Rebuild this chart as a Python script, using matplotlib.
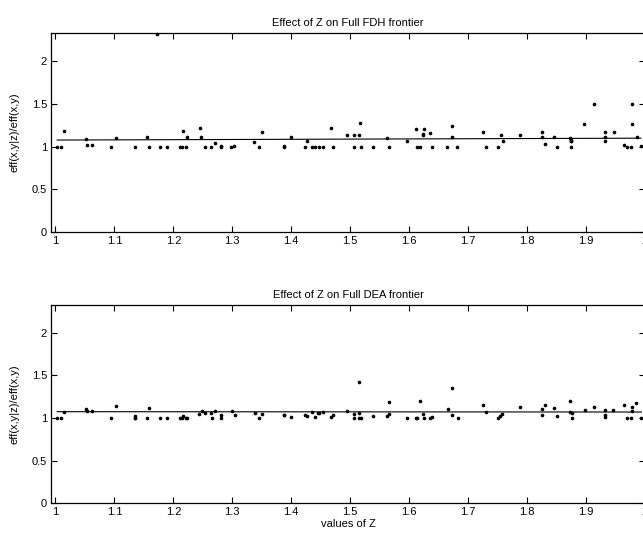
import matplotlib
matplotlib.use('Agg')
import matplotlib.pyplot as plt
from matplotlib.ticker import FormatStrFormatter

plt.rcParams['font.family'] = ['Liberation Sans', 'DejaVu Sans']

# Full FDH frontier: values of Z and ratio eff(x,y|z)/eff(x,y)
fdh_z = [1.003, 1.010, 1.015, 1.052, 1.053, 1.062, 1.094, 1.103, 1.135, 1.155,
         1.158, 1.172, 1.177, 1.190, 1.212, 1.215, 1.216, 1.221, 1.224, 1.245,
         1.247, 1.254, 1.264, 1.270, 1.280, 1.280, 1.298, 1.303, 1.337, 1.345,
         1.350, 1.387, 1.388, 1.399, 1.424, 1.427, 1.435, 1.440, 1.447, 1.454,
         1.467, 1.471, 1.494, 1.506, 1.506, 1.515, 1.516, 1.518, 1.539, 1.563,
         1.565, 1.597, 1.611, 1.614, 1.619, 1.623, 1.624, 1.625, 1.635, 1.639,
         1.665, 1.672, 1.672, 1.681, 1.725, 1.731, 1.751, 1.755, 1.759, 1.788,
         1.825, 1.825, 1.830, 1.845, 1.851, 1.873, 1.874, 1.875, 1.875, 1.875,
         1.897, 1.913, 1.933, 1.933, 1.933, 1.947, 1.965, 1.969, 1.976, 1.978,
         1.978, 1.986, 1.993]
fdh_eff = [1.0, 1.0, 1.18, 1.094, 1.02, 1.02, 1.0, 1.10, 1.0, 1.11,
           1.0, 2.32, 1.0, 1.0, 1.0, 1.0, 1.18, 1.0, 1.117, 1.22,
           1.117, 1.0, 1.0, 1.04, 1.01, 1.0, 1.0, 1.01, 1.05, 1.0,
           1.17, 1.01, 1.0, 1.117, 1.0, 1.063, 1.0, 1.0, 1.0, 1.0,
           1.223, 1.0, 1.133, 1.133, 1.0, 1.133, 1.278, 1.0, 1.0, 1.106,
           1.0, 1.07, 1.207, 1.0, 1.0, 1.133, 1.149, 1.207, 1.16, 1.0,
           1.0, 1.243, 1.117, 1.0, 1.176, 1.0, 1.0, 1.133, 1.063, 1.133,
           1.17, 1.11, 1.03, 1.11, 1.0, 1.106, 1.078, 1.07, 1.063, 1.0,
           1.262, 1.50, 1.17, 1.11, 1.07, 1.17, 1.02, 1.0, 1.0, 1.50,
           1.262, 1.11, 1.01]
fdh_fit_z = [1.003, 1.993]
fdh_fit = [1.078, 1.100]

# Full DEA frontier
dea_z = [1.003, 1.010, 1.015, 1.052, 1.053, 1.062, 1.095, 1.103, 1.135, 1.135,
         1.135, 1.155, 1.158, 1.177, 1.190, 1.212, 1.214, 1.216, 1.221, 1.223,
         1.244, 1.248, 1.254, 1.264, 1.265, 1.270, 1.280, 1.280, 1.299, 1.304,
         1.338, 1.345, 1.350, 1.387, 1.388, 1.399, 1.424, 1.427, 1.435, 1.440,
         1.446, 1.447, 1.454, 1.467, 1.471, 1.494, 1.506, 1.507, 1.515, 1.515,
         1.515, 1.519, 1.539, 1.563, 1.565, 1.566, 1.597, 1.611, 1.614, 1.619,
         1.623, 1.625, 1.635, 1.639, 1.666, 1.672, 1.673, 1.682, 1.725, 1.731,
         1.751, 1.754, 1.758, 1.788, 1.825, 1.826, 1.830, 1.845, 1.851, 1.873,
         1.873, 1.876, 1.876, 1.898, 1.913, 1.933, 1.933, 1.933, 1.946, 1.965,
         1.969, 1.976, 1.978, 1.978, 1.985, 1.994]
dea_eff = [1.0, 1.0, 1.074, 1.11, 1.085, 1.085, 1.003, 1.144, 1.005, 1.02,
           1.0, 1.003, 1.12, 1.0, 1.0, 1.005, 0.995, 1.025, 1.0, 1.0,
           1.043, 1.082, 1.055, 1.055, 1.0, 1.085, 1.035, 1.0, 1.078, 1.035,
           1.059, 1.0, 1.05, 1.035, 1.03, 1.008, 1.03, 1.02, 1.066, 1.008,
           1.063, 1.063, 1.066, 1.012, 1.04, 1.078, 1.0, 1.047, 1.063, 1.426,
           1.0, 1.0, 1.02, 1.024, 1.19, 1.05, 1.0, 1.0, 1.0, 1.195,
           1.05, 1.0, 1.0, 1.015, 1.105, 1.35, 1.03, 1.004, 1.149, 1.07,
           0.996, 1.023, 1.043, 1.133, 1.10, 1.04, 1.149, 1.117, 1.02, 1.203,
           1.07, 1.055, 1.003, 1.09, 1.129, 1.09, 1.03, 1.016, 1.09, 1.149,
           1.003, 1.003, 1.082, 1.129, 1.176, 1.003]
dea_fit_z = [1.003, 1.994]
dea_fit = [1.074, 1.070]

xticks = [1, 1.1, 1.2, 1.3, 1.4, 1.5, 1.6, 1.7, 1.8, 1.9, 2]
yticks = [0, 0.5, 1, 1.5, 2]

fig = plt.figure(figsize=(6.43, 5.35), dpi=100)
ax1 = fig.add_axes([0.0798, 0.5664, 0.9233, 0.3714])
ax2 = fig.add_axes([0.0798, 0.0593, 0.9233, 0.3714])

panels = [(ax1, fdh_z, fdh_eff, fdh_fit_z, fdh_fit, 'Effect of Z on Full FDH frontier'),
          (ax2, dea_z, dea_eff, dea_fit_z, dea_fit, 'Effect of Z on Full DEA frontier')]

for ax, z, eff, fz, fit, title in panels:
    ax.plot(z, eff, 'k.', markersize=3.2, clip_on=False)
    ax.plot(fz, fit, color='black', linewidth=0.8)
    ax.set_xlim(0.993, 2.0)
    ax.set_ylim(0, 2.33)
    ax.set_xticks(xticks)
    ax.set_yticks(yticks)
    ax.xaxis.set_major_formatter(FormatStrFormatter('%g'))
    ax.yaxis.set_major_formatter(FormatStrFormatter('%g'))
    ax.tick_params(direction='in', top=True, right=True, length=4,
                   width=0.8, labelsize=8, pad=3)
    for s in ax.spines.values():
        s.set_linewidth(0.9)
    ax.set_title(title, fontsize=8, pad=5)
    ax.set_ylabel('eff(x,y|z)/eff(x,y)', fontsize=8)
    ax.yaxis.set_label_coords(-0.053, 0.5)

ax2.set_xlabel('values of Z', fontsize=8, labelpad=1)

fig.savefig('out.png', dpi=100)
